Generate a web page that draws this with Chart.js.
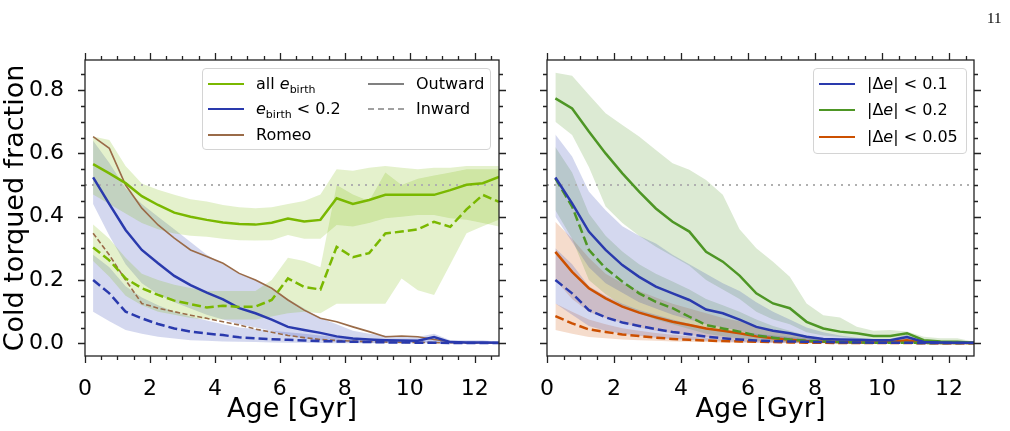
<!DOCTYPE html>
<html>
<head>
<meta charset="utf-8">
<script src="https://cdn.jsdelivr.net/npm/chart.js@4/dist/chart.umd.min.js"></script>
<style>
  body { margin: 0; background: #fff; font-family: 'DejaVu Sans', sans-serif; }
  #wrap { position: relative; width: 1010px; height: 431px; overflow: hidden; }
  canvas { position: absolute; top: 0; }
  .legend { position: absolute; border: 1px solid #d4d4d4; border-radius: 4px; background: rgba(255,255,255,0.85); font-size: 16px; color: #000; }
  .item { position: absolute; white-space: nowrap; line-height: 20px; height: 20px; }
  .swatch { display: inline-block; width: 36px; height: 0; vertical-align: middle; margin-right: 12px; border-top-width: 2.5px; border-top-style: solid; position: relative; top: -1px; }
  sub { font-size: 11px; vertical-align: -4px; font-style: normal; line-height: 0; }
  #page { position: absolute; left: 987px; top: 10px; font-family: 'Liberation Serif', serif; font-size: 15px; }
</style>
</head>
<body>
<div id="wrap">
  <canvas id="left" width="510" height="431" style="left:0"></canvas>
  <canvas id="right" width="500" height="431" style="left:510px"></canvas>
  <div id="page">11</div>
  <div class="legend" style="left:202px;top:68px;width:287px;height:80px">
    <div class="item" style="left:5px;top:5px"><span class="swatch" style="border-top-color:#7ab800"></span>all <i>e</i><sub>birth</sub></div>
    <div class="item" style="left:5px;top:30px"><span class="swatch" style="border-top-color:#2a3aad"></span><i>e</i><sub>birth</sub> &lt; 0.2</div>
    <div class="item" style="left:5px;top:56px"><span class="swatch" style="border-top-color:#9a6b48;border-top-width:2px"></span>Romeo</div>
    <div class="item" style="left:165px;top:5px"><span class="swatch" style="border-top-color:#808080;border-top-width:2px"></span>Outward</div>
    <div class="item" style="left:165px;top:30px"><span class="swatch" style="border-top-color:#a0a0a0;border-top-width:2px;border-top-style:dashed"></span>Inward</div>
  </div>
  <div class="legend" style="left:813px;top:68px;width:152px;height:84px">
    <div class="item" style="left:5px;top:5px"><span class="swatch" style="border-top-color:#2a3aad"></span>|Δ<i>e</i>| &lt; 0.1</div>
    <div class="item" style="left:5px;top:31px"><span class="swatch" style="border-top-color:#4e9625"></span>|Δ<i>e</i>| &lt; 0.2</div>
    <div class="item" style="left:5px;top:58px"><span class="swatch" style="border-top-color:#cc5000"></span>|Δ<i>e</i>| &lt; 0.05</div>
  </div>
</div>
<script>
// ages of the bin centres (Gyr)
const AGE = [0.25, 0.75, 1.25, 1.75, 2.25, 2.75, 3.25, 3.75, 4.25, 4.75, 5.25, 5.75, 6.25,
  6.75, 7.25, 7.75, 8.25, 8.75, 9.25, 9.75, 10.25, 10.75, 11.25, 11.75, 12.25, 12.75];

// left panel: all e_birth
const ALL_OUT = [0.566, 0.537, 0.506, 0.465, 0.437, 0.413, 0.400, 0.390, 0.382, 0.377, 0.375, 0.381, 0.394,
  0.385, 0.390, 0.458, 0.440, 0.453, 0.469, 0.469, 0.469, 0.469, 0.484, 0.501, 0.506, 0.526];
const ALL_OUT_HI = [0.653, 0.642, 0.56, 0.505, 0.485, 0.469, 0.455, 0.448, 0.437, 0.43, 0.427, 0.43, 0.44,
  0.45, 0.47, 0.55, 0.545, 0.555, 0.56, 0.555, 0.55, 0.555, 0.555, 0.56, 0.56, 0.56];
const ALL_OUT_LO = [0.47, 0.44, 0.41, 0.38, 0.36, 0.347, 0.34, 0.337, 0.33, 0.326, 0.325, 0.326, 0.342,
  0.33, 0.33, 0.374, 0.369, 0.38, 0.395, 0.4, 0.405, 0.405, 0.395, 0.39, 0.38, 0.369];
const ALL_IN = [0.303, 0.262, 0.205, 0.174, 0.153, 0.135, 0.124, 0.113, 0.119, 0.115, 0.116, 0.137, 0.205,
  0.178, 0.170, 0.305, 0.272, 0.285, 0.347, 0.353, 0.360, 0.384, 0.368, 0.423, 0.469, 0.447];
const ALL_IN_HI = [0.375, 0.33, 0.27, 0.22, 0.20, 0.185, 0.175, 0.165, 0.165, 0.165, 0.165, 0.2, 0.27,
  0.26, 0.24, 0.5, 0.47, 0.45, 0.54, 0.5, 0.52, 0.53, 0.54, 0.55, 0.55, 0.55];
const ALL_IN_LO = [0.26, 0.21, 0.15, 0.12, 0.10, 0.09, 0.08, 0.075, 0.075, 0.075, 0.075, 0.085, 0.095,
  0.1, 0.095, 0.125, 0.125, 0.125, 0.125, 0.205, 0.168, 0.153, 0.25, 0.348, 0.37, 0.39];

// left panel: e_birth < 0.2
const LOW_OUT = [0.524, 0.44, 0.358, 0.295, 0.253, 0.213, 0.184, 0.160, 0.139, 0.111, 0.095, 0.075, 0.052,
  0.042, 0.033, 0.022, 0.015, 0.012, 0.01, 0.009, 0.008, 0.02, 0.004, 0.003, 0.003, 0.002];
const LOW_OUT_HI = [0.64, 0.57, 0.49, 0.44, 0.40, 0.36, 0.32, 0.28, 0.25, 0.22, 0.2, 0.17, 0.14,
  0.11, 0.08, 0.06, 0.04, 0.03, 0.025, 0.02, 0.02, 0.03, 0.01, 0.01, 0.01, 0.005];
const LOW_OUT_LO = [0.44, 0.34, 0.25, 0.19, 0.155, 0.13, 0.11, 0.09, 0.075, 0.06, 0.05, 0.04, 0.025,
  0.015, 0.01, 0.005, 0.003, 0.002, 0.001, 0.001, 0.001, 0.005, 0, 0, 0, 0];
const LOW_IN = [0.2, 0.158, 0.1, 0.079, 0.061, 0.047, 0.037, 0.031, 0.026, 0.019, 0.016, 0.013, 0.011,
  0.009, 0.007, 0.006, 0.005, 0.004, 0.003, 0.003, 0.002, 0.002, 0.001, 0.001, 0.001, 0.001];
const LOW_IN_HI = [0.28, 0.24, 0.18, 0.145, 0.12, 0.1, 0.085, 0.072, 0.06, 0.05, 0.045, 0.04, 0.035,
  0.03, 0.025, 0.02, 0.015, 0.012, 0.01, 0.01, 0.008, 0.008, 0.006, 0.005, 0.005, 0.005];
const LOW_IN_LO = [0.1, 0.07, 0.042, 0.03, 0.021, 0.015, 0.01, 0.008, 0.006, 0.005, 0.004, 0.003, 0.002,
  0.002, 0.001, 0, 0, 0, 0, 0, 0, 0, 0, 0, 0, 0];

// left panel: Romeo
const ROMEO_OUT = [0.653, 0.616, 0.5, 0.427, 0.374, 0.332, 0.295, 0.274, 0.253, 0.221, 0.2, 0.174, 0.137,
  0.105, 0.079, 0.068, 0.052, 0.037, 0.021, 0.023, 0.021, 0.012, 0.005, 0.002, 0.002, 0.001];
const ROMEO_IN = [0.348, 0.279, 0.2, 0.126, 0.111, 0.1, 0.089, 0.079, 0.068, 0.058, 0.045, 0.035, 0.025,
  0.018, 0.012, 0.009, 0.007, 0.005, 0.004, 0.003, 0.003, 0.002, 0.002, 0.001, 0.001, 0.001];

// right panel: |de| < 0.1
const D01_OUT = [0.524, 0.442, 0.353, 0.295, 0.247, 0.21, 0.179, 0.158, 0.137, 0.107, 0.095, 0.075, 0.052,
  0.04, 0.032, 0.021, 0.014, 0.012, 0.011, 0.01, 0.01, 0.02, 0.004, 0.003, 0.002, 0.002];
const D01_OUT_HI = [0.66, 0.59, 0.48, 0.42, 0.37, 0.34, 0.315, 0.28, 0.25, 0.22, 0.19, 0.165, 0.13,
  0.1, 0.075, 0.05, 0.035, 0.025, 0.018, 0.014, 0.014, 0.028, 0.007, 0.005, 0.004, 0.003];
const D01_OUT_LO = [0.40, 0.32, 0.24, 0.19, 0.16, 0.13, 0.11, 0.09, 0.075, 0.06, 0.05, 0.04, 0.025,
  0.018, 0.012, 0.008, 0.005, 0.003, 0.002, 0.002, 0.002, 0.004, 0.001, 0, 0, 0];
const D01_IN = [0.2, 0.158, 0.105, 0.082, 0.066, 0.055, 0.045, 0.036, 0.029, 0.021, 0.016, 0.012, 0.009,
  0.007, 0.006, 0.005, 0.004, 0.003, 0.003, 0.002, 0.002, 0.002, 0.001, 0.001, 0.001, 0.001];
const D01_IN_HI = [0.30, 0.25, 0.18, 0.15, 0.125, 0.105, 0.09, 0.075, 0.062, 0.05, 0.042, 0.035, 0.03,
  0.025, 0.02, 0.016, 0.012, 0.01, 0.008, 0.006, 0.005, 0.005, 0.004, 0.003, 0.003, 0.002];
const D01_IN_LO = [0.126, 0.09, 0.055, 0.04, 0.03, 0.024, 0.018, 0.014, 0.011, 0.008, 0.006, 0.004, 0.003,
  0.002, 0.001, 0, 0, 0, 0, 0, 0, 0, 0, 0, 0, 0];

// right panel: |de| < 0.2
const D02_OUT = [0.774, 0.742, 0.669, 0.600, 0.537, 0.479, 0.426, 0.384, 0.353, 0.289, 0.258, 0.214, 0.158,
  0.126, 0.111, 0.068, 0.047, 0.037, 0.032, 0.023, 0.023, 0.032, 0.01, 0.006, 0.005, 0.002];
const D02_OUT_HI = [0.855, 0.845, 0.785, 0.727, 0.69, 0.653, 0.611, 0.569, 0.548, 0.516, 0.469, 0.36, 0.30,
  0.258, 0.21, 0.126, 0.089, 0.082, 0.052, 0.04, 0.042, 0.037, 0.021, 0.016, 0.016, 0.005];
const D02_OUT_LO = [0.70, 0.658, 0.557, 0.432, 0.38, 0.34, 0.305, 0.275, 0.245, 0.2, 0.17, 0.14, 0.1,
  0.075, 0.06, 0.035, 0.025, 0.02, 0.015, 0.01, 0.01, 0.015, 0.004, 0.003, 0.002, 0.001];
const D02_IN = [0.521, 0.432, 0.295, 0.237, 0.195, 0.158, 0.131, 0.111, 0.084, 0.058, 0.047, 0.037, 0.025,
  0.018, 0.012, 0.008, 0.006, 0.004, 0.003, 0.002, 0.002, 0.002, 0.001, 0.001, 0.001, 0.001];
const D02_IN_HI = [0.62, 0.54, 0.41, 0.34, 0.29, 0.25, 0.22, 0.195, 0.17, 0.14, 0.12, 0.1, 0.075,
  0.055, 0.04, 0.025, 0.015, 0.01, 0.008, 0.006, 0.005, 0.006, 0.003, 0.002, 0.002, 0.001];
const D02_IN_LO = [0.42, 0.33, 0.2, 0.155, 0.12, 0.095, 0.075, 0.06, 0.045, 0.03, 0.022, 0.015, 0.01,
  0.006, 0.004, 0.002, 0.001, 0, 0, 0, 0, 0, 0, 0, 0, 0];

// right panel: |de| < 0.05
const D005_OUT = [0.289, 0.226, 0.174, 0.142, 0.116, 0.097, 0.082, 0.068, 0.058, 0.047, 0.04, 0.032, 0.022,
  0.016, 0.011, 0.007, 0.005, 0.004, 0.003, 0.003, 0.004, 0.01, 0.002, 0.001, 0.001, 0.001];
const D005_OUT_HI = [0.384, 0.33, 0.27, 0.22, 0.19, 0.165, 0.145, 0.125, 0.11, 0.095, 0.08, 0.07, 0.05,
  0.04, 0.03, 0.02, 0.015, 0.012, 0.01, 0.008, 0.01, 0.02, 0.006, 0.004, 0.003, 0.002];
const D005_OUT_LO = [0.2, 0.14, 0.1, 0.08, 0.065, 0.05, 0.04, 0.032, 0.026, 0.02, 0.016, 0.012, 0.008,
  0.005, 0.003, 0.002, 0.001, 0, 0, 0, 0, 0.002, 0, 0, 0, 0];
const D005_IN = [0.086, 0.063, 0.044, 0.036, 0.028, 0.023, 0.018, 0.014, 0.011, 0.009, 0.007, 0.006, 0.005,
  0.004, 0.003, 0.002, 0.002, 0.001, 0.001, 0.001, 0.001, 0.001, 0, 0, 0, 0];
const D005_IN_HI = [0.126, 0.1, 0.075, 0.06, 0.048, 0.04, 0.033, 0.027, 0.022, 0.018, 0.015, 0.012, 0.01,
  0.008, 0.006, 0.005, 0.004, 0.003, 0.002, 0.002, 0.002, 0.002, 0.001, 0.001, 0.001, 0.001];
const D005_IN_LO = [0.042, 0.03, 0.02, 0.016, 0.012, 0.01, 0.008, 0.006, 0.005, 0.004, 0.003, 0.002, 0.002,
  0.001, 0, 0, 0, 0, 0, 0, 0, 0, 0, 0, 0, 0];

const HALF = 0.5;
const X_RANGE = [0, 12.75];
const Y_RANGE = [-0.04, 0.895];

const GREEN_ALL = '#7ab800';
const BLUE = '#2a3aad';
const BROWN = '#9a6b48';
const GREEN_02 = '#4e9625';
const ORANGE = '#cc5000';

Chart.defaults.font.family = "'DejaVu Sans', sans-serif";
Chart.defaults.color = '#000';

function pts(ys) {
  return AGE.map((a, i) => ({x: a, y: ys[i]}));
}

function fade(hex, a) {
  const n = parseInt(hex.slice(1), 16);
  return `rgba(${n >> 16},${(n >> 8) & 255},${n & 255},${a})`;
}

function band(hi, lo, color) {
  return [
    {data: pts(hi), borderWidth: 0, pointRadius: 0, fill: '+1', backgroundColor: fade(color, 0.2), order: 5},
    {data: pts(lo), borderWidth: 0, pointRadius: 0, fill: false, order: 5}
  ];
}

function line(ys, color, width, dash) {
  return {data: pts(ys), borderColor: color, borderWidth: width, borderDash: dash || [],
    pointRadius: 0, fill: false, order: 1};
}

const halfLine = {
  data: [{x: X_RANGE[0], y: HALF}, {x: X_RANGE[1], y: HALF}],
  borderColor: '#b0b0b0', borderWidth: 2, borderDash: [2, 5], pointRadius: 0, fill: false, order: 3
};

// frame plus outward major/minor ticks on all four sides
const frameTicks = {
  id: 'frameTicks',
  afterDatasetsDraw(chart) {
    const {ctx, chartArea: a, scales: {x, y}} = chart;
    ctx.save();
    ctx.strokeStyle = '#222';
    ctx.lineWidth = 1.3;
    ctx.strokeRect(a.left, a.top, a.right - a.left, a.bottom - a.top);
    ctx.beginPath();
    for (let k = 0; k * 0.5 <= X_RANGE[1]; k++) {
      const px = Math.round(x.getPixelForValue(k * 0.5)) + 0.5;
      const len = k % 4 === 0 ? 7 : 4;
      ctx.moveTo(px, a.bottom); ctx.lineTo(px, a.bottom + len);
      ctx.moveTo(px, a.top); ctx.lineTo(px, a.top - len);
    }
    for (let k = 0; k * 0.05 <= Y_RANGE[1]; k++) {
      const py = Math.round(y.getPixelForValue(k * 0.05)) + 0.5;
      const len = k % 4 === 0 ? 7 : 4;
      ctx.moveTo(a.left, py); ctx.lineTo(a.left - len, py);
      ctx.moveTo(a.right, py); ctx.lineTo(a.right + len, py);
    }
    ctx.stroke();
    ctx.restore();
  }
};

function makeChart(id, datasets, showY, padRight, yWidth) {
  return new Chart(document.getElementById(id), {
    type: 'line',
    data: {datasets},
    plugins: [frameTicks],
    options: {
      responsive: false,
      animation: false,
      devicePixelRatio: 1,
      layout: {padding: {top: 60, right: padRight, left: 0, bottom: 0}},
      elements: {line: {tension: 0}},
      plugins: {legend: {display: false}, tooltip: {enabled: false}},
      scales: {
        x: {
          type: 'linear', min: X_RANGE[0], max: X_RANGE[1],
          grid: {display: false},
          border: {display: false},
          ticks: {stepSize: 2, includeBounds: false, padding: 12, font: {size: 22}, maxRotation: 0},
          title: {display: true, text: 'Age [Gyr]', font: {size: 27}, padding: {top: 0, bottom: 5}},
          afterFit: s => { s.height = 75; }
        },
        y: {
          type: 'linear', min: Y_RANGE[0], max: Y_RANGE[1],
          grid: {display: false},
          border: {display: false},
          ticks: {display: showY, stepSize: 0.2, includeBounds: false, padding: 13, font: {size: 22},
            callback: v => v.toFixed(1)},
          title: {display: showY, text: 'Cold torqued fraction', font: {size: 27}, padding: {top: 0, bottom: 0}},
          afterFit: s => { s.width = yWidth; }
        }
      }
    }
  });
}

makeChart('left', [
  ...band(ALL_OUT_HI, ALL_OUT_LO, GREEN_ALL),
  ...band(ALL_IN_HI, ALL_IN_LO, GREEN_ALL),
  ...band(LOW_OUT_HI, LOW_OUT_LO, BLUE),
  ...band(LOW_IN_HI, LOW_IN_LO, BLUE),
  halfLine,
  line(ALL_OUT, GREEN_ALL, 2.5),
  line(ALL_IN, GREEN_ALL, 2.5, [9, 4]),
  line(LOW_OUT, BLUE, 2.5),
  line(LOW_IN, BLUE, 2.5, [9, 4]),
  line(ROMEO_OUT, BROWN, 1.6),
  line(ROMEO_IN, BROWN, 1.6, [5, 2.5])
], true, 11, 85);

makeChart('right', [
  ...band(D01_OUT_HI, D01_OUT_LO, BLUE),
  ...band(D01_IN_HI, D01_IN_LO, BLUE),
  ...band(D02_OUT_HI, D02_OUT_LO, GREEN_02),
  ...band(D02_IN_HI, D02_IN_LO, GREEN_02),
  ...band(D005_OUT_HI, D005_OUT_LO, ORANGE),
  ...band(D005_IN_HI, D005_IN_LO, ORANGE),
  halfLine,
  line(D01_OUT, BLUE, 2.5),
  line(D01_IN, BLUE, 2.5, [9, 4]),
  line(D02_OUT, GREEN_02, 2.5),
  line(D02_IN, GREEN_02, 2.5, [9, 4]),
  line(D005_OUT, ORANGE, 2.5),
  line(D005_IN, ORANGE, 2.5, [9, 4])
], false, 36, 37);
</script>
</body>
</html>
